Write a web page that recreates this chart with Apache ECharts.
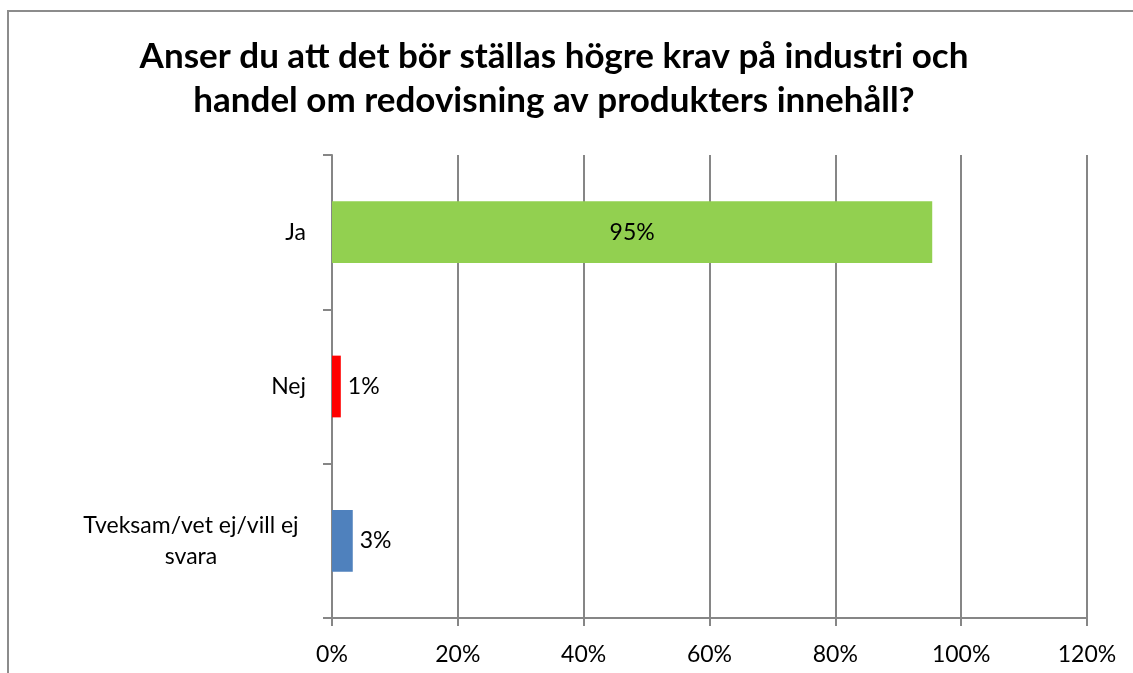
<!DOCTYPE html>
<html>
<head>
<meta charset="utf-8">
<script src="https://cdn.jsdelivr.net/npm/echarts@6/dist/echarts.min.js"></script>
<style>
  html, body { margin: 0; padding: 0; background: #fff; }
  #chart { width: 1133px; height: 673px; }
</style>
</head>
<body>
<div id="chart"></div>
<script>
// svarsalternativ och andelar
var categories = ['Ja', 'Nej', 'Tveksam/vet ej/vill ej\nsvara'];
var shares = [0.954, 0.014, 0.033];
var barColors = ['#92D050', '#FF0000', '#4F81BD'];
var labelPos = ['inside', 'right', 'right'];

var gridColor = '#868686';
var font = 'Lato, "Open Sans", sans-serif';

var myChart = echarts.init(document.getElementById('chart'));

var seriesData = shares.map(function (v, i) {
    return {
        value: v,
        itemStyle: { color: barColors[i] },
        label: { position: labelPos[i], distance: 7 }
    };
});

myChart.setOption({
    animation: false,
    backgroundColor: '#fff',
    graphic: [{
        type: 'rect',
        shape: { x: 8, y: 11, width: 1300, height: 800 },
        style: { fill: 'none', stroke: '#8c8c8c', lineWidth: 2 },
        silent: true
    }],
    title: {
        text: 'Anser du att det bör ställas högre krav på industri och\nhandel om redovisning av produkters innehåll?',
        left: 549,
        top: 30,
        textAlign: 'center',
        textStyle: {
            fontFamily: font,
            fontWeight: 'bold',
            fontSize: 35,
            lineHeight: 44,
            color: '#000'
        }
    },
    grid: {
        left: 332,
        right: 46,
        top: 155,
        bottom: 55
    },
    xAxis: {
        type: 'value',
        min: 0,
        max: 1.2,
        interval: 0.2,
        axisLine: { show: true, lineStyle: { color: gridColor, width: 2 } },
        axisTick: { show: true, length: 8, lineStyle: { color: gridColor, width: 2 } },
        splitLine: { show: true, lineStyle: { color: gridColor, width: 2 } },
        axisLabel: {
            margin: 25,
            fontFamily: font,
            fontSize: 23,
            color: '#000',
            formatter: function (v) { return Math.round(v * 100) + '%'; }
        }
    },
    yAxis: {
        type: 'category',
        data: categories,
        inverse: true,
        axisLine: { show: true, lineStyle: { color: gridColor, width: 2 } },
        axisTick: { show: true, length: 9, lineStyle: { color: gridColor, width: 2 } },
        splitLine: { show: false },
        axisLabel: {
            margin: 26,
            fontFamily: font,
            fontSize: 23,
            lineHeight: 31,
            color: '#000',
            formatter: function (v) {
                if (v.indexOf('\n') < 0) return v;
                return v.split('\n').map(function (s) { return '{c|' + s + '}'; }).join('\n');
            },
            rich: {
                c: {
                    fontFamily: font,
                    fontSize: 23,
                    lineHeight: 31,
                    color: '#000',
                    width: 230,
                    align: 'center'
                }
            }
        }
    },
    series: [{
        type: 'bar',
        data: seriesData,
        barWidth: '40%',
        label: {
            show: true,
            fontFamily: font,
            fontSize: 23,
            color: '#000',
            formatter: function (p) { return Math.round(p.value * 100) + '%'; }
        }
    }]
});
</script>
</body>
</html>
